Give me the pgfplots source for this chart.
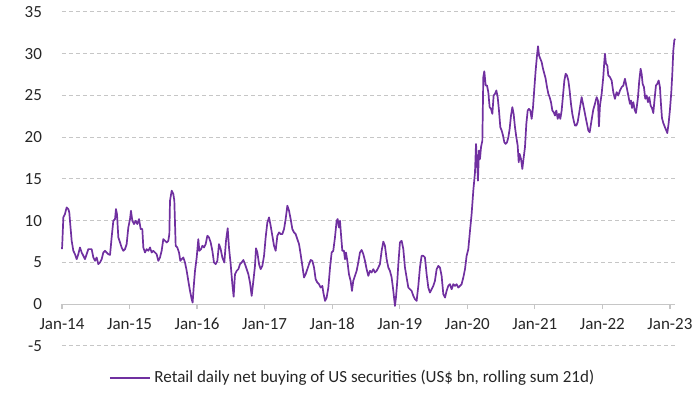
\documentclass[border=0pt]{standalone}
\usepackage{fontspec}
\setmainfont{Carlito}
\usepackage{pgfplots}
\pgfplotsset{compat=1.18}
\definecolor{xlpurple}{RGB}{112,48,160}
\begin{document}
\begin{tikzpicture}
\path[use as bounding box] (-31pt,-24pt) rectangle (319pt,173pt);
\begin{axis}[
  at={(0,0)}, anchor=south west,
  scale only axis, width=306.5pt, height=167pt,
  xmin=2014, xmax=2023.075, ymin=-5, ymax=35,
  axis x line=middle, axis y line=left,
  x axis line style={-, draw=gray!45, line width=0.6pt},
  y axis line style={draw=none},
  hide obscured x ticks=false, hide obscured y ticks=false,
  xtick={2014,2015,2016,2017,2018,2019,2020,2021,2022,2023},
  xticklabels={Jan-14,Jan-15,Jan-16,Jan-17,Jan-18,Jan-19,Jan-20,Jan-21,Jan-22,Jan-23},
  ytick={-5,0,5,10,15,20,25,30,35},
  tick align=outside, major tick length=2.5pt,
  xtick style={draw=gray!45, line width=0.6pt},
  ytick style={draw=none},
  ymajorgrids, major grid style={gray!45, dash pattern=on 2pt off 1.5pt, line width=0.5pt},
  tick label style={font=\fontsize{8.5}{10}\selectfont, text=black!85},
  /pgf/number format/assume math mode=true,
  xticklabel style={yshift=-1pt},
  yticklabel style={xshift=-4pt},
  legend style={at={(rel axis cs:0.476,-0.096)}, anchor=center, draw=none, fill=none,
    font=\fontsize{8.5}{10}\selectfont, text=black!85},
  legend image code/.code={\draw[#1, line width=0.6pt] (0pt,0pt) -- (20pt,0pt);},
  clip=false,
]
\addplot[xlpurple, line width=0.85pt, line join=round] coordinates {
(2014.000,6.6)(2014.005,7.4)(2014.020,10.4)(2014.044,10.8)(2014.069,11.6)(2014.094,11.4)(2014.108,11.0)
(2014.118,10.0)(2014.143,7.6)(2014.168,6.4)(2014.192,6.0)(2014.217,5.4)(2014.242,6.0)(2014.266,6.8)
(2014.291,6.2)(2014.316,5.8)(2014.340,5.4)(2014.365,6.0)(2014.390,6.6)(2014.439,6.6)(2014.464,5.6)
(2014.489,5.2)(2014.513,5.6)(2014.538,4.8)(2014.563,5.0)(2014.587,5.4)(2014.612,6.2)(2014.637,6.4)
(2014.661,6.2)(2014.686,6.0)(2014.711,5.9)(2014.735,8.0)(2014.760,10.0)(2014.785,10.2)(2014.799,11.4)
(2014.814,10.8)(2014.834,8.0)(2014.859,7.4)(2014.883,6.8)(2014.908,6.4)(2014.933,6.6)(2014.957,7.2)
(2014.982,9.2)(2015.007,10.2)(2015.021,11.2)(2015.041,10.0)(2015.066,9.6)(2015.091,10.0)(2015.115,9.6)
(2015.140,10.2)(2015.165,9.0)(2015.189,9.0)(2015.204,6.8)(2015.229,6.2)(2015.253,6.6)(2015.278,6.4)
(2015.303,6.8)(2015.327,6.2)(2015.352,6.4)(2015.377,6.2)(2015.401,6.0)(2015.426,5.2)(2015.451,5.6)
(2015.475,6.4)(2015.500,7.8)(2015.525,7.6)(2015.550,7.4)(2015.574,7.6)(2015.589,8.4)(2015.599,12.4)
(2015.624,13.6)(2015.648,13.2)(2015.663,12.4)(2015.683,7.0)(2015.707,6.8)(2015.732,6.2)(2015.752,5.2)
(2015.772,5.4)(2015.796,5.6)(2015.821,5.0)(2015.846,4.0)(2015.870,2.8)(2015.895,1.6)(2015.920,0.6)
(2015.934,0.2)(2015.949,2.0)(2015.969,4.0)(2015.994,5.6)
(2016.018,7.8)(2016.033,6.4)(2016.058,6.6)(2016.078,7.0)(2016.102,6.8)(2016.127,7.2)(2016.152,8.2)
(2016.176,8.0)(2016.201,7.4)(2016.226,6.4)(2016.250,5.0)(2016.275,4.8)(2016.300,5.2)(2016.324,7.2)
(2016.349,6.6)(2016.374,5.6)(2016.403,5.0)(2016.428,7.6)(2016.453,9.1)(2016.472,6.8)(2016.497,4.8)
(2016.522,2.4)(2016.541,0.9)(2016.561,3.6)(2016.586,4.0)(2016.611,4.2)(2016.635,4.8)(2016.660,5.0)
(2016.685,5.3)(2016.709,4.8)(2016.734,4.2)(2016.759,3.6)(2016.783,2.6)(2016.808,1.0)(2016.833,2.8)
(2016.857,4.6)(2016.872,6.7)(2016.892,6.2)(2016.917,4.8)(2016.941,4.2)(2016.966,4.6)(2016.991,5.8)
(2017.015,8.0)(2017.040,9.8)(2017.065,10.4)(2017.089,9.4)(2017.114,8.2)(2017.139,7.0)(2017.163,6.4)
(2017.188,8.2)(2017.213,8.6)(2017.237,8.4)(2017.262,8.4)(2017.287,9.0)(2017.311,10.2)(2017.336,11.8)
(2017.361,11.2)(2017.385,10.2)(2017.410,9.0)(2017.435,8.6)(2017.459,8.4)(2017.484,7.8)(2017.509,7.2)
(2017.533,6.0)(2017.558,4.6)(2017.583,3.2)(2017.607,3.6)(2017.632,4.2)(2017.657,4.8)(2017.681,5.3)
(2017.706,5.2)(2017.731,4.4)(2017.755,3.0)(2017.780,2.6)(2017.805,2.4)(2017.829,2.0)(2017.854,2.2)
(2017.869,1.4)(2017.894,0.4)(2017.918,0.8)(2017.943,2.0)(2017.968,4.4)(2017.992,6.2)
(2018.016,6.4)(2018.041,8.0)(2018.066,10.0)(2018.081,10.2)(2018.100,9.2)(2018.115,10.0)(2018.130,8.4)
(2018.150,6.4)(2018.174,6.4)(2018.189,5.4)(2018.204,6.2)(2018.224,5.2)(2018.248,3.6)(2018.273,2.8)
(2018.293,1.6)(2018.312,2.8)(2018.337,3.4)(2018.362,4.0)(2018.386,5.0)(2018.411,6.2)(2018.436,6.5)
(2018.461,6.0)(2018.485,5.2)(2018.510,4.2)(2018.535,3.4)(2018.559,4.0)(2018.584,3.8)(2018.609,4.2)
(2018.633,3.8)(2018.658,4.0)(2018.683,4.4)(2018.707,4.8)(2018.732,6.4)(2018.757,7.5)(2018.781,7.0)
(2018.806,5.4)(2018.831,4.4)(2018.855,4.0)(2018.880,3.2)(2018.905,1.6)(2018.929,-0.2)(2018.944,0.8)
(2018.964,2.8)(2018.979,4.8)(2019.003,7.4)(2019.028,7.6)(2019.053,6.6)(2019.077,4.4)(2019.102,3.2)
(2019.127,2.0)(2019.151,1.8)(2019.176,1.6)(2019.201,1.0)(2019.225,0.6)(2019.250,0.4)(2019.275,2.2)
(2019.299,4.4)(2019.324,5.8)(2019.349,5.8)(2019.373,5.6)(2019.398,3.6)(2019.423,2.0)(2019.447,1.4)
(2019.472,1.8)(2019.497,2.2)(2019.521,2.8)(2019.546,4.2)(2019.571,4.6)(2019.595,4.4)(2019.620,3.4)
(2019.645,1.2)(2019.670,0.8)(2019.694,1.6)(2019.719,2.2)(2019.743,2.4)(2019.768,1.8)(2019.793,2.4)
(2019.818,2.2)(2019.842,2.4)(2019.867,2.0)(2019.891,2.2)(2019.916,2.4)(2019.941,3.2)(2019.966,4.2)
(2019.990,5.8)(2020.015,6.6)(2020.040,8.8)(2020.064,10.8)(2020.089,13.6)(2020.114,15.8)
(2020.129,19.2)(2020.144,17.2)(2020.158,14.8)(2020.173,18.4)(2020.188,17.4)(2020.203,18.8)(2020.223,19.6)
(2020.237,27.2)(2020.252,27.9)(2020.272,26.2)(2020.292,26.2)(2020.311,25.4)(2020.331,23.6)(2020.351,23.4)
(2020.371,22.8)(2020.390,25.0)(2020.410,25.2)(2020.430,25.6)(2020.450,24.8)(2020.469,23.2)(2020.489,21.2)
(2020.509,20.8)(2020.529,20.2)(2020.548,19.4)(2020.568,19.2)(2020.588,19.4)(2020.608,20.0)(2020.627,21.0)
(2020.647,22.6)(2020.667,23.6)(2020.686,22.8)(2020.706,21.2)(2020.726,20.0)(2020.746,19.0)(2020.761,17.0)
(2020.775,18.0)(2020.795,17.4)(2020.815,16.2)(2020.835,17.6)(2020.854,18.8)(2020.874,21.6)(2020.894,23.2)
(2020.913,23.4)(2020.933,23.2)(2020.953,22.2)(2020.973,23.6)(2020.992,25.8)(2021.012,28.0)(2021.032,29.8)
(2021.047,30.9)(2021.062,29.8)(2021.081,29.4)(2021.101,29.0)(2021.121,28.2)(2021.141,27.6)(2021.160,27.0)
(2021.180,26.0)(2021.200,25.2)(2021.219,24.8)(2021.239,24.2)(2021.259,23.2)(2021.279,23.0)(2021.298,22.6)
(2021.318,23.2)(2021.338,22.2)(2021.358,22.8)(2021.377,22.2)(2021.397,23.2)(2021.417,25.0)(2021.437,26.8)
(2021.456,27.6)(2021.476,27.4)(2021.496,26.8)(2021.515,25.6)(2021.535,24.0)(2021.555,22.8)(2021.575,22.0)
(2021.594,21.4)(2021.614,21.4)(2021.634,21.8)(2021.654,22.8)(2021.673,23.8)(2021.693,24.8)(2021.713,24.0)
(2021.733,23.2)(2021.752,22.4)(2021.772,21.6)(2021.792,20.8)(2021.812,20.6)
(2021.841,22.1)(2021.865,23.3)(2021.890,24.0)(2021.915,24.8)(2021.934,24.4)(2021.949,21.3)(2021.964,23.8)
(2021.989,25.2)(2022.013,27.2)(2022.028,29.0)(2022.038,30.0)(2022.053,28.8)(2022.073,28.6)(2022.087,27.4)
(2022.112,27.2)(2022.137,26.8)(2022.161,25.4)(2022.186,24.6)(2022.211,25.4)(2022.235,25.0)(2022.260,25.6)
(2022.285,26.0)(2022.310,26.2)(2022.334,27.0)(2022.359,26.0)(2022.374,25.4)(2022.388,24.8)(2022.408,24.0)
(2022.423,24.4)(2022.438,23.5)(2022.458,24.2)(2022.477,23.3)(2022.497,22.9)(2022.512,23.8)(2022.527,24.8)
(2022.546,26.8)(2022.566,28.2)(2022.581,27.6)(2022.596,26.4)(2022.615,26.0)(2022.635,24.6)(2022.655,25.0)
(2022.675,24.2)(2022.694,24.8)(2022.714,23.8)(2022.734,23.5)(2022.754,22.9)(2022.773,24.6)(2022.793,26.2)
(2022.813,26.4)(2022.833,26.8)(2022.852,26.0)(2022.867,24.0)(2022.882,22.3)(2022.902,21.7)(2022.921,21.3)
(2022.941,20.9)(2022.961,20.5)(2022.981,21.7)(2023.000,23.3)(2023.020,25.4)(2023.035,27.6)(2023.050,30.4)
(2023.065,31.6)(2023.075,31.8)
};
\addlegendentry{Retail daily net buying of US securities (US\$ bn, rolling sum 21d)}
\end{axis}
\end{tikzpicture}
\end{document}
